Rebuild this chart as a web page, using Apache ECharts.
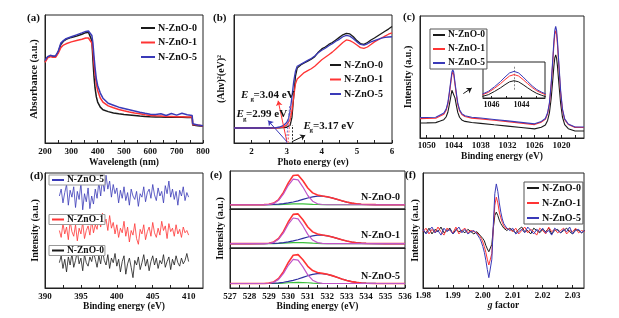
<!DOCTYPE html>
<html><head><meta charset="utf-8">
<script src="https://cdn.jsdelivr.net/npm/echarts@6/dist/echarts.min.js"></script>
<style>html,body{margin:0;padding:0;background:#fff}#c{width:619px;height:318px}</style>
</head><body><div id="c"></div>
<script>
// ---------- names ----------
const sampleNames = ['N-ZnO-0', 'N-ZnO-1', 'N-ZnO-5'];

// ---------- (a) UV-vis absorbance ----------
const aX = [200,210,220,230,240,250,260,270,280,300,320,340,355,365,372,378,382,386,390,395,400,410,420,440,460,480,500,520,540,560,580,600,620,640,660,680,700,720,740,759,761,780,800];
const a0 = [0.635,0.67,0.68,0.675,0.675,0.71,0.77,0.795,0.81,0.825,0.835,0.85,0.862,0.865,0.85,0.80,0.65,0.52,0.43,0.36,0.32,0.28,0.26,0.245,0.235,0.228,0.222,0.218,0.214,0.21,0.207,0.205,0.204,0.203,0.202,0.202,0.201,0.201,0.2,0.2,0.14,0.135,0.13];
const a1 = [0.63,0.665,0.675,0.67,0.67,0.70,0.745,0.765,0.775,0.79,0.80,0.81,0.82,0.82,0.81,0.78,0.72,0.62,0.54,0.46,0.41,0.35,0.32,0.29,0.275,0.262,0.252,0.243,0.235,0.228,0.22,0.215,0.212,0.21,0.208,0.207,0.205,0.205,0.204,0.203,0.145,0.14,0.132];
const a5 = [0.645,0.675,0.685,0.68,0.68,0.715,0.78,0.80,0.815,0.83,0.845,0.86,0.872,0.875,0.865,0.84,0.78,0.68,0.59,0.50,0.45,0.39,0.35,0.31,0.295,0.28,0.27,0.26,0.25,0.24,0.232,0.225,0.222,0.228,0.215,0.23,0.218,0.232,0.22,0.215,0.15,0.14,0.135];
const aLabels = [200,300,400,500,600,700,800];
const aTicks = [200,250,300,350,400,450,500,550,600,650,700,750,800];

// ---------- (b) Tauc plot ----------
const bX = [1.5,2.0,2.5,2.7,2.8,2.9,2.95,3.0,3.05,3.1,3.15,3.2,3.25,3.3,3.4,3.5,3.6,3.7,3.8,3.9,4.0,4.1,4.2,4.3,4.4,4.5,4.6,4.7,4.8,4.9,5.0,5.1,5.2,5.3,5.4,5.5,5.6,5.7,5.8,5.9,6.0];
const b0 = [0.117,0.117,0.117,0.118,0.118,0.12,0.121,0.123,0.127,0.14,0.2,0.36,0.52,0.585,0.61,0.625,0.64,0.655,0.675,0.71,0.735,0.75,0.77,0.785,0.805,0.825,0.845,0.857,0.852,0.83,0.8,0.777,0.77,0.785,0.805,0.82,0.838,0.855,0.873,0.89,0.91];
const b1 = [0.117,0.117,0.117,0.117,0.12,0.125,0.13,0.14,0.155,0.185,0.25,0.36,0.46,0.5,0.525,0.55,0.565,0.58,0.6,0.625,0.65,0.67,0.69,0.71,0.735,0.76,0.785,0.805,0.8,0.785,0.765,0.745,0.74,0.75,0.77,0.79,0.805,0.82,0.835,0.85,0.86];
const b5 = [0.117,0.117,0.117,0.12,0.125,0.135,0.145,0.16,0.19,0.25,0.36,0.48,0.56,0.6,0.615,0.63,0.645,0.66,0.68,0.705,0.725,0.74,0.76,0.775,0.795,0.81,0.83,0.84,0.835,0.815,0.79,0.77,0.765,0.775,0.79,0.8,0.81,0.82,0.825,0.828,0.83];
const bLabels = [2,3,4,5,6];
const bTicks = [2,2.5,3,3.5,4,4.5,5,5.5,6];
const bGapValues = ['3.04', '2.99', '3.17'];
// annotation arrows/guides in data units [[x1,y1],[x2,y2]]
const bArrowRed = [[3.006,0.01],[2.757,0.33]];
const bArrowBlue = [[3.006,0.01],[2.471,0.175]];
const bArrowBlack = [[3.149,0.01],[3.529,0.06]];
const bGuideBlack = [[3.17,0],[3.17,0.14]];
const bGuideRed = [[3.04,0],[3.13,0.3]];
const bGuideBlue = [[2.99,0],[3.09,0.3]];

// ---------- (c) Zn 2p XPS ----------
const cX = [1051.5,1050,1048,1047,1046.2,1045.7,1045.3,1045.0,1044.7,1044.4,1044.2,1044.0,1043.7,1043.4,1043.1,1042.7,1042.2,1041.5,1040,1038,1035,1032,1029,1026,1024.5,1023.6,1023.1,1022.7,1022.3,1022.0,1021.7,1021.5,1021.3,1021.1,1020.9,1020.6,1020.2,1019.8,1019.3,1018.5,1017,1015];
const c0 = [0.123,0.124,0.126,0.139,0.150,0.172,0.211,0.267,0.327,0.391,0.405,0.391,0.327,0.266,0.210,0.170,0.148,0.136,0.127,0.120,0.108,0.097,0.086,0.075,0.088,0.107,0.144,0.205,0.326,0.454,0.589,0.656,0.681,0.655,0.587,0.450,0.283,0.172,0.109,0.076,0.057,0.057];
const c1 = [0.159,0.160,0.162,0.180,0.195,0.225,0.278,0.353,0.435,0.521,0.540,0.521,0.435,0.352,0.276,0.223,0.193,0.176,0.163,0.157,0.145,0.134,0.122,0.110,0.130,0.153,0.199,0.276,0.431,0.593,0.764,0.849,0.880,0.849,0.762,0.589,0.371,0.229,0.150,0.111,0.087,0.086];
const c5 = [0.167,0.168,0.170,0.189,0.204,0.235,0.289,0.367,0.452,0.541,0.560,0.541,0.451,0.366,0.288,0.232,0.200,0.183,0.170,0.164,0.152,0.140,0.128,0.116,0.136,0.160,0.207,0.287,0.448,0.617,0.795,0.883,0.915,0.882,0.792,0.612,0.387,0.239,0.157,0.115,0.090,0.090];
const cLabels = [1050,1044,1038,1032,1026,1020];
const cTicks = [1050,1047,1044,1041,1038,1035,1032,1029,1026,1023,1020,1017];
const cArrow = [[1041.86,0.364],[1039.99,0.41]];
// inset
const insX = [1046.6,1046.2,1045.8,1045.4,1045.1,1044.8,1044.5,1044.2,1043.9,1043.6,1043.3,1043.0,1042.7,1042.4];
const ins0 = [0.044,0.093,0.181,0.282,0.37,0.449,0.48,0.449,0.37,0.282,0.198,0.128,0.080,0.035];
const ins1 = [0.09,0.157,0.269,0.398,0.51,0.611,0.65,0.611,0.51,0.398,0.292,0.202,0.14,0.09];
const ins5 = [0.11,0.186,0.312,0.457,0.583,0.696,0.74,0.696,0.583,0.457,0.337,0.236,0.167,0.115];
const insLabels = [1046,1044];
const insTicks = [1046,1045,1044,1043];
const insGuide = [[1044.5,0.23],[1044.5,0.87]];

// ---------- (d) N 1s XPS (392-410 eV, evenly sampled) ----------
const dRange = [392, 410];
const d5 = [0.80,0.86,0.74,0.83,0.90,0.72,0.85,0.79,0.88,0.70,0.84,0.77,0.91,0.68,0.82,0.75,0.87,0.69,0.80,0.73,0.86,0.78,0.92,0.80,0.95,0.84,0.98,0.86,0.93,0.79,0.90,0.82,0.87,0.74,0.85,0.78,0.88,0.76,0.83,0.72,0.86,0.80,0.77,0.84,0.71,0.82,0.79,0.88,0.75,0.83,0.86,0.78,0.90,0.81,0.76,0.87,0.80,0.84,0.74,0.89,0.82,0.93,0.79,0.86,0.77,0.84,0.72,0.85,0.80,0.88,0.76,0.83,0.79];
const d1 = [0.50,0.44,0.56,0.47,0.53,0.42,0.58,0.49,0.45,0.55,0.41,0.52,0.47,0.57,0.43,0.50,0.54,0.46,0.59,0.48,0.55,0.51,0.62,0.53,0.65,0.56,0.60,0.50,0.63,0.52,0.57,0.47,0.55,0.44,0.52,0.48,0.58,0.45,0.53,0.40,0.50,0.46,0.56,0.43,0.38,0.51,0.47,0.55,0.42,0.49,0.53,0.45,0.57,0.48,0.44,0.52,0.46,0.58,0.50,0.54,0.43,0.56,0.49,0.52,0.45,0.55,0.47,0.51,0.44,0.53,0.48,0.50,0.46];
const d0 = [0.22,0.28,0.17,0.25,0.14,0.27,0.20,0.30,0.18,0.24,0.32,0.21,0.26,0.15,0.29,0.22,0.19,0.27,0.23,0.31,0.25,0.18,0.28,0.21,0.33,0.24,0.20,0.29,0.17,0.26,0.22,0.30,0.19,0.25,0.14,0.23,0.28,0.12,0.21,0.26,0.18,0.09,0.24,0.20,0.27,0.16,0.22,0.29,0.19,0.25,0.15,0.23,0.28,0.20,0.26,0.17,0.24,0.21,0.29,0.18,0.23,0.27,0.16,0.25,0.20,0.28,0.22,0.19,0.26,0.21,0.24,0.30,0.23];
const dLabels = [390,395,400,405,410];
const dTicks = [390,392.5,395,397.5,400,402.5,405,407.5,410];

// ---------- (e) O 1s XPS fits ----------
const eX = [527,528,528.75,529,529.25,529.5,529.75,530,530.25,530.5,530.75,531,531.25,531.5,531.75,532,532.25,532.5,532.75,533,533.25,533.5,533.75,534,534.5,535,536];
const eRaw0 = [0,0,0.002,0.012,0.046,0.146,0.346,0.617,0.825,0.838,0.674,0.470,0.334,0.275,0.248,0.224,0.192,0.152,0.111,0.075,0.046,0.027,0.014,0.007,0.002,0,0];
const eLat0 = [0,0,0.001,0.008,0.037,0.124,0.304,0.547,0.722,0.700,0.498,0.260,0.100,0.028,0.006,0,0,0,0,0,0,0,0,0,0,0,0];
const eVac0 = [0,0,0.001,0.004,0.009,0.017,0.030,0.050,0.077,0.110,0.150,0.190,0.222,0.241,0.242,0.224,0.192,0.152,0.111,0.075,0.046,0.027,0.014,0.007,0.002,0,0];
const eOth0 = [0,0,0,0,0,0.005,0.012,0.020,0.026,0.028,0.026,0.020,0.012,0.006,0,0,0,0,0,0,0,0,0,0,0,0,0];
const eRaw1 = [0,0,0.002,0.012,0.045,0.142,0.337,0.600,0.803,0.815,0.655,0.455,0.322,0.264,0.238,0.215,0.184,0.146,0.106,0.072,0.044,0.026,0.013,0.007,0.002,0,0];
const eLat1 = [0,0,0.001,0.008,0.036,0.121,0.296,0.532,0.703,0.681,0.485,0.253,0.097,0.027,0.006,0,0,0,0,0,0,0,0,0,0,0,0];
const eVac1 = [0,0,0.001,0.004,0.009,0.016,0.029,0.048,0.074,0.106,0.144,0.182,0.213,0.231,0.232,0.215,0.184,0.146,0.106,0.072,0.044,0.026,0.013,0.007,0.002,0,0];
const eOth1 = [0,0,0,0,0,0.005,0.012,0.020,0.026,0.028,0.026,0.020,0.012,0.006,0,0,0,0,0,0,0,0,0,0,0,0,0];
const eRaw5 = [0,0,0.002,0.011,0.043,0.135,0.316,0.563,0.755,0.773,0.635,0.461,0.345,0.296,0.271,0.246,0.211,0.167,0.122,0.083,0.051,0.030,0.015,0.008,0.002,0,0];
const eLat5 = [0,0,0.001,0.007,0.033,0.111,0.271,0.488,0.644,0.624,0.444,0.232,0.089,0.025,0.005,0,0,0,0,0,0,0,0,0,0,0,0];
const eVac5 = [0,0,0.001,0.004,0.010,0.019,0.033,0.055,0.085,0.121,0.165,0.209,0.244,0.265,0.266,0.246,0.211,0.167,0.122,0.083,0.051,0.030,0.015,0.008,0.002,0,0];
const eOth5 = [0,0,0,0,0,0.005,0.012,0.020,0.026,0.028,0.026,0.020,0.012,0.006,0,0,0,0,0,0,0,0,0,0,0,0,0];
const eLabels = [527,528,529,530,531,532,533,534,535,536];
const eTicks = [527,527.5,528,528.5,529,529.5,530,530.5,531,531.5,532,532.5,533,533.5,534,534.5,535,535.5,536];

// ---------- (f) EPR ----------
const fX = [1.980,1.981,1.982,1.983,1.984,1.985,1.986,1.987,1.988,1.989,1.990,1.991,1.992,1.993,1.994,1.995,1.996,1.997,1.998,
  1.9985,1.999,1.9995,2.000,2.0005,2.001,2.0015,2.002,2.0025,2.003,2.0035,2.004,2.0045,2.005,2.0055,2.006,2.0065,2.007,2.0075,2.008,
  2.009,2.010,2.011,2.012,2.013,2.014,2.015,2.016,2.017,2.018,2.019,2.020,2.021,2.022,2.023,2.024,2.025,2.026,2.027,2.028,2.029,2.030,2.031,2.032,2.033,2.034];
const f0 = [0.50,0.48,0.52,0.47,0.51,0.49,0.53,0.48,0.50,0.52,0.47,0.51,0.49,0.50,0.48,0.51,0.49,0.47,0.49,
  0.48,0.46,0.45,0.43,0.41,0.37,0.34,0.315,0.32,0.38,0.52,0.63,0.66,0.63,0.59,0.56,0.54,0.52,0.51,0.50,
  0.52,0.50,0.48,0.51,0.53,0.49,0.50,0.47,0.52,0.50,0.48,0.51,0.49,0.52,0.47,0.50,0.51,0.48,0.50,0.52,0.49,0.47,0.51,0.50,0.48,0.50];
const f1 = [0.49,0.52,0.47,0.51,0.48,0.53,0.49,0.46,0.52,0.50,0.48,0.53,0.47,0.50,0.52,0.48,0.50,0.49,0.48,
  0.47,0.45,0.43,0.40,0.36,0.31,0.25,0.20,0.19,0.30,0.52,0.72,0.79,0.74,0.66,0.61,0.57,0.54,0.52,0.51,
  0.51,0.49,0.52,0.47,0.50,0.53,0.48,0.51,0.49,0.46,0.52,0.50,0.47,0.53,0.49,0.51,0.48,0.50,0.52,0.47,0.50,0.49,0.52,0.48,0.50,0.49];
const f5 = [0.51,0.47,0.50,0.53,0.48,0.50,0.46,0.52,0.49,0.51,0.47,0.50,0.53,0.48,0.51,0.47,0.49,0.50,0.47,
  0.46,0.43,0.40,0.36,0.31,0.24,0.16,0.09,0.085,0.25,0.55,0.82,0.905,0.84,0.74,0.66,0.60,0.56,0.54,0.52,
  0.50,0.52,0.47,0.49,0.51,0.48,0.53,0.50,0.47,0.51,0.49,0.52,0.48,0.50,0.46,0.52,0.50,0.48,0.51,0.49,0.53,0.47,0.50,0.51,0.48,0.50];
const fLabels = [1.98,1.99,2.00,2.01,2.02,2.03];
const fTicks = [1.98,1.985,1.99,1.995,2.00,2.005,2.01,2.015,2.02,2.025,2.03];

// ---------- styling ----------
const FF = "'Liberation Serif','Times New Roman',serif";
const K = '#1a1a1a', R = '#ff3434', B = '#3a3ab8';
const MAG = '#c055c8', EB = '#2e2ea0', EG = '#3cc03c';

function pairs(xs, ys) { const n = Math.min(xs.length, ys.length); const o = []; for (let i = 0; i < n; i++) o.push([xs[i], ys[i]]); return o; }
function even(range, ys) { const n = ys.length; return ys.map((y, i) => [range[0] + (range[1] - range[0]) * i / (n - 1), y]); }
function line(name, data, color, gi, width, z) {
  return { type: 'line', name, xAxisIndex: gi, yAxisIndex: gi, data, symbol: 'none', showSymbol: false,
    lineStyle: { color, width: width || 1 }, itemStyle: { color }, silent: true, z: z || 2, clip: true };
}
function seg(coords, color, gi, arrow, dashed) {
  return { type: 'lines', coordinateSystem: 'cartesian2d', xAxisIndex: gi, yAxisIndex: gi, silent: true, z: 5,
    symbol: arrow ? ['none', 'arrow'] : ['none', 'none'], symbolSize: 5,
    lineStyle: { color, width: 1, type: dashed ? [2, 1.5] : 'solid', opacity: 1 },
    data: [{ coords }] };
}
const nameStyle = (fs) => ({ fontFamily: FF, fontWeight: 'bold', fontSize: fs || 9.5, color: '#111' });
const plain = v => String(v);
function lab(values, fs, margin, fmt) {
  return { show: true, customValues: values, fontSize: fs || 9, fontWeight: 'bold', fontFamily: FF, color: '#111', margin: margin == null ? 4 : margin, formatter: fmt || plain };
}
function xax(gi, min, max, labels, ticks, extra) {
  return Object.assign({
    type: 'value', gridIndex: gi, min, max,
    axisLine: { show: true, onZero: false, lineStyle: { color: '#222', width: 1 } },
    axisTick: { show: true, inside: true, length: 3, customValues: ticks, lineStyle: { color: '#222' } },
    axisLabel: lab(labels),
    splitLine: { show: false }, nameLocation: 'middle', nameGap: 15, nameTextStyle: nameStyle(9.5)
  }, extra || {});
}
function yax(gi, min, max, extra) {
  return Object.assign({
    type: 'value', gridIndex: gi, min, max,
    axisLine: { show: true, onZero: false, lineStyle: { color: '#222', width: 1 } },
    axisTick: { show: false }, axisLabel: { show: false }, splitLine: { show: false },
    nameLocation: 'middle', nameGap: 5, nameTextStyle: nameStyle(10)
  }, extra || {});
}
const gridBox = (left, top, width, height, bg) => ({ left, top, width, height, show: true, borderColor: '#222', borderWidth: 1, backgroundColor: bg || 'transparent' });
const legendText = (fs) => ({ fontFamily: FF, fontWeight: 'bold', fontSize: fs, color: '#111', padding: [0, 0, 0, -2] });
const legendBase = (left, top, names, o) => Object.assign({
  left, top, orient: 'vertical', data: names, selectedMode: false, padding: 0,
  itemWidth: 12, itemHeight: 8, itemGap: 4.5,
  itemStyle: { opacity: 0, borderWidth: 0 },
  textStyle: legendText(10)
}, o || {});

const grids = [
  gridBox(45, 15, 158, 128),   // 0 a
  gridBox(234, 15, 158, 128),  // 1 b
  gridBox(420, 16, 164, 122),  // 2 c
  gridBox(483, 62, 62, 36, '#fff'), // 3 c inset
  gridBox(45, 173, 158, 115),  // 4 d
  gridBox(230, 171, 175, 38),  // 5 e1
  gridBox(230, 209, 175, 39),  // 6 e2
  gridBox(230, 248, 175, 40),  // 7 e3
  gridBox(423, 173, 161, 115)  // 8 f
];

const xAxes = [
  xax(0, 200, 800, aLabels, aTicks, { name: 'Wavelength (nm)', nameGap: 15 }),
  xax(1, 1.5, 6, bLabels, bTicks, { name: 'Photo energy (ev)', nameGap: 15 }),
  xax(2, 1015, 1051.5, cLabels, cTicks, { inverse: true, name: 'Binding energy (eV)', nameGap: 14, axisLabel: lab(cLabels, 9, 3) }),
  xax(3, 1042.45, 1046.56, insLabels, insTicks, { inverse: true, axisLabel: lab(insLabels, 8, 3), axisTick: { show: true, inside: true, length: 2, customValues: insTicks, lineStyle: { color: '#222' } } }),
  xax(4, 390, 412, dLabels, dTicks, { name: 'Binding energy (eV)', nameGap: 14 }),
  xax(5, 527, 536, eLabels, eTicks, { axisLabel: { show: false }, axisTick: { show: false } }),
  xax(6, 527, 536, eLabels, eTicks, { axisLabel: { show: false }, axisTick: { show: false } }),
  xax(7, 527, 536, eLabels, eTicks, { name: 'Binding energy (eV)', nameGap: 14 }),
  xax(8, 1.98, 2.0338, fLabels, fTicks, {
    name: '{i|g} factor', nameGap: 13,
    nameTextStyle: Object.assign(nameStyle(9.5), { rich: { i: { fontStyle: 'italic', fontFamily: FF, fontWeight: 'bold', fontSize: 9.5, color: '#111' } } }),
    axisLabel: lab(fLabels, 9, 3, v => v.toFixed(2))
  })
];
const yAxes = [
  yax(0, 0, 1, { name: 'Absorbance (a.u.)', nameGap: 5, nameTextStyle: nameStyle(10.5) }),
  yax(1, 0, 1, { name: '(Ahν)²(eV)²', nameGap: 8 }),
  yax(2, 0, 1, { name: 'Intensity (a.u.)', nameGap: 7 }),
  yax(3, 0, 1, { axisLine: { show: false } }),
  yax(4, 0, 1, { name: 'Intensity (a.u.)', nameGap: 5 }),
  yax(5, -0.12, 0.95),
  yax(6, -0.12, 0.95, { name: 'Intensity (a.u.)', nameGap: 5 }),
  yax(7, -0.12, 0.95),
  yax(8, 0, 1, { name: 'Intensity (a.u.)', nameGap: 3 })
];

const series = [
  // a
  line(sampleNames[0], pairs(aX, a0), K, 0, 1.5),
  line(sampleNames[1], pairs(aX, a1), R, 0, 1.5),
  line(sampleNames[2], pairs(aX, a5), B, 0, 1.5),
  // b
  line(sampleNames[0], pairs(bX, b0), K, 1, 1.3),
  line(sampleNames[1], pairs(bX, b1), R, 1, 1.3),
  line(sampleNames[2], pairs(bX, b5), B, 1, 1.3),
  seg(bGuideBlack, '#333', 1, false, true),
  seg(bGuideRed, '#ff6b6b', 1, false, true),
  seg(bGuideBlue, '#6b6bd0', 1, false, true),
  seg(bArrowRed, R, 1, true),
  seg(bArrowBlue, B, 1, true),
  seg(bArrowBlack, K, 1, true),
  // c
  line(sampleNames[0], pairs(cX, c0), K, 2, 1.1),
  line(sampleNames[1], pairs(cX, c1), R, 2, 1.1),
  line(sampleNames[2], pairs(cX, c5), B, 2, 1.1),
  seg(cArrow, K, 2, true),
  line(sampleNames[0], pairs(insX, ins0), K, 3, 1, 6),
  line(sampleNames[1], pairs(insX, ins1), R, 3, 1, 6),
  line(sampleNames[2], pairs(insX, ins5), B, 3, 1, 6),
  seg(insGuide, '#888', 3, false, true),
  // d
  line(sampleNames[2], even(dRange, d5), B, 4, 0.8),
  line(sampleNames[1], even(dRange, d1), R, 4, 0.8),
  line(sampleNames[0], even(dRange, d0), K, 4, 0.8),
  // e
  line('e-other-0', pairs(eX, eOth0), EG, 5, 1.2), line('e-vac-0', pairs(eX, eVac0), EB, 5, 1.2),
  line('e-raw-0', pairs(eX, eRaw0), R, 5, 1.6), line('e-lat-0', pairs(eX, eLat0), MAG, 5, 1.2),
  line('e-other-1', pairs(eX, eOth1), EG, 6, 1.2), line('e-vac-1', pairs(eX, eVac1), EB, 6, 1.2),
  line('e-raw-1', pairs(eX, eRaw1), R, 6, 1.6), line('e-lat-1', pairs(eX, eLat1), MAG, 6, 1.2),
  line('e-other-5', pairs(eX, eOth5), EG, 7, 1.2), line('e-vac-5', pairs(eX, eVac5), EB, 7, 1.2),
  line('e-raw-5', pairs(eX, eRaw5), R, 7, 1.6), line('e-lat-5', pairs(eX, eLat5), MAG, 7, 1.2),
  // f
  line(sampleNames[0], pairs(fX, f0), K, 8, 1),
  line(sampleNames[1], pairs(fX, f1), R, 8, 1),
  line(sampleNames[2], pairs(fX, f5), B, 8, 1)
];

const boxed = { borderColor: '#555', borderWidth: 1, backgroundColor: '#fff' };
const dBox = (top, name) => legendBase(49, top, [name], Object.assign({}, boxed, { borderColor: '#999', padding: [0, 1, 0, 2], itemHeight: 9, textStyle: legendText(9.5) }));
const legends = [
  legendBase(140, 23, sampleNames, { itemWidth: 14 }),
  legendBase(329, 60, sampleNames, { itemWidth: 11 }),
  legendBase(430, 29, sampleNames, Object.assign({}, boxed, { padding: [1, 2, 1, 2], itemGap: 4, textStyle: legendText(9.5) })),
  dBox(175, sampleNames[2]),
  dBox(214.5, sampleNames[1]),
  dBox(245.5, sampleNames[0]),
  legendBase(524, 182, sampleNames, Object.assign({}, boxed, { padding: [1, 2, 1, 2], itemHeight: 7, itemGap: 5 }))
];

function txt(text, x, y, fs, opt) {
  return { type: 'text', x, y, z: 10, silent: true,
    style: Object.assign({ text, fill: '#111', fontFamily: FF, fontWeight: 'bold', fontSize: fs, align: 'left', verticalAlign: 'middle' }, opt || {}) };
}
const graphics = [
  txt('(a)', 27, 18, 11), txt('(b)', 213, 18, 11), txt('(c)', 403, 17, 11),
  txt('(d)', 30, 176, 11), txt('(e)', 210, 175, 11), txt('(f)', 405, 175, 11),
  // Eg annotations
  txt('E', 241, 95, 11, { fontStyle: 'italic' }), txt('g', 250.5, 99.5, 7), txt('=' + bGapValues[0] + ' eV', 253.5, 95, 11),
  txt('E', 236.5, 114.5, 11, { fontStyle: 'italic' }), txt('g', 243, 119, 7), txt('=' + bGapValues[1] + ' eV', 246, 114.5, 11),
  txt('E', 303.5, 126, 11, { fontStyle: 'italic' }), txt('g', 309.5, 130.5, 7), txt('=' + bGapValues[2] + ' eV', 313, 126.5, 11),
  // e sample labels
  txt(sampleNames[0], 400, 197, 10, { align: 'right' }),
  txt(sampleNames[1], 400, 235, 10, { align: 'right' }),
  txt(sampleNames[2], 400, 276.5, 10, { align: 'right' })
];

const chart = echarts.init(document.getElementById('c'), null, { renderer: 'canvas' });
chart.setOption({
  animation: false,
  backgroundColor: '#fff',
  grid: grids, xAxis: xAxes, yAxis: yAxes, series, legend: legends, graphic: graphics
});
</script></body></html>
